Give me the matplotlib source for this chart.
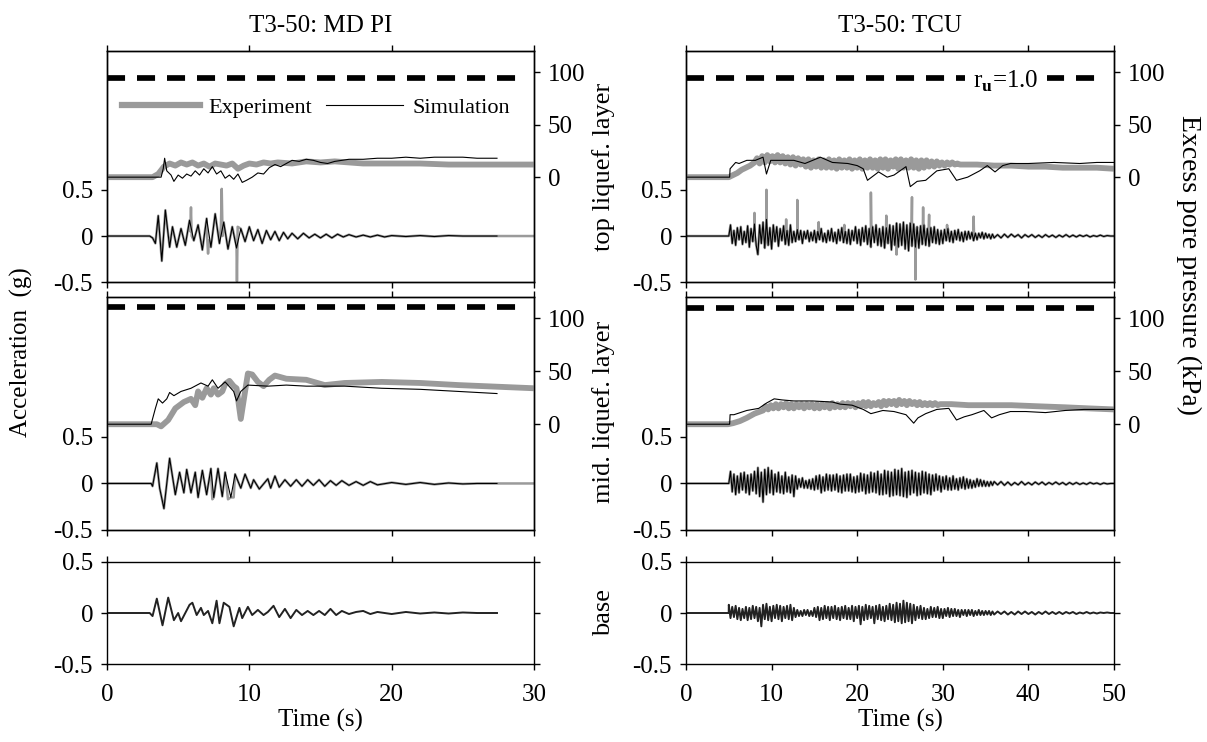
import numpy as np
import matplotlib
matplotlib.use('Agg')
import matplotlib.pyplot as plt
from matplotlib.lines import Line2D

plt.rcParams['font.family'] = ['Liberation Serif', 'DejaVu Serif']
plt.rcParams['axes.unicode_minus'] = False
plt.rcParams['lines.scale_dashes'] = False
plt.rcParams['mathtext.fontset'] = 'custom'
plt.rcParams['mathtext.rm'] = 'Liberation Serif'
plt.rcParams['mathtext.bf'] = 'Liberation Serif:bold'

GREY = '#9a9a9a'

# ---------------- T3-50: MD PI (left column) ----------------
mdpi_top_pp_exp_t = [0, 3.2, 3.6, 4.0, 4.4, 4.8, 5.2, 5.6, 6.0, 6.4, 6.8, 7.2, 7.6, 8.0, 8.4, 8.8,
                     9.2, 9.6, 10.0, 10.5, 11, 11.5, 12, 13, 14, 15, 16, 17, 18, 19, 20, 22, 24, 26, 28, 30]
mdpi_top_pp_exp_v = [0, 0, 3, 10, 13, 11, 14, 12, 14, 11, 13, 10, 13, 12, 11, 13,
                     8, 11, 13, 12, 14, 13, 14, 13, 15, 14, 15, 14, 13, 13, 13, 13, 12, 12, 12, 12]
mdpi_top_pp_sim_t = [0, 3.8, 3.95, 4.05, 4.2, 4.5, 4.7, 5.0, 5.3, 5.6, 5.9, 6.2, 6.5, 6.8, 7.1, 7.4,
                     7.7, 8.0, 8.3, 8.6, 8.9, 9.2, 9.5, 9.8, 10.2, 10.6, 11.0, 11.4, 11.8, 12.2, 12.6,
                     13.0, 13.5, 14, 14.5, 15, 15.5, 16, 17, 18, 19, 20, 21, 22, 23, 24, 25, 26, 27.4]
mdpi_top_pp_sim_v = [0, 0, 8, 18, 6, 2, -4, 2, -1, 3, 1, 6, 2, 8, 4, 10,
                     3, 6, -1, 2, -2, 3, -5, -3, 0, 4, 3, 9, 12, 10, 13,
                     16, 15, 17, 16, 14, 13, 15, 17, 17, 18, 18, 19, 18, 19, 19, 19, 18, 18]

mdpi_top_acc_sim_t = [0, 3.0, 3.2, 3.4, 3.6, 3.85, 4.1, 4.4, 4.6, 4.9, 5.2, 5.5, 5.8, 6.1, 6.4, 6.7,
                      7.0, 7.3, 7.6, 7.9, 8.2, 8.5, 8.8, 9.1, 9.4, 9.7, 10.0, 10.3, 10.6, 10.9, 11.2,
                      11.5, 11.8, 12.1, 12.4, 12.7, 13.0, 13.4, 13.8, 14.2, 14.6, 15.0, 15.4, 15.8,
                      16.2, 16.6, 17.0, 17.5, 18, 18.5, 19, 19.5, 20, 21, 22, 23, 24, 25, 26, 27.4]
mdpi_top_acc_sim_v = [0, 0, -0.02, -0.08, 0.22, -0.27, 0.28, -0.12, 0.1, -0.12, 0.08, -0.1, 0.17,
                      -0.05, 0.12, -0.15, 0.19, -0.12, 0.24, -0.08, 0.15, -0.14, 0.1, -0.13, 0.08,
                      -0.06, 0.1, -0.05, 0.07, -0.08, 0.06, -0.04, 0.05, -0.05, 0.04, -0.03, 0.03,
                      -0.03, 0.03, -0.02, 0.02, -0.02, 0.02, -0.02, 0.02, -0.01, 0.015, -0.01, 0.01,
                      -0.01, 0.01, -0.01, 0.005, -0.005, 0.005, -0.005, 0.005, 0, 0, 0]
mdpi_top_acc_exp_extra_t = [5.85, 5.9, 5.95, 7.05, 7.1, 7.15, 8.0, 8.06, 8.12,
                            9.08, 9.13, 9.18, 27.6, 30.0]
mdpi_top_acc_exp_extra_v = [0.05, 0.31, 0.0, -0.05, -0.19, -0.05, 0.1, 0.51, 0.0,
                            -0.1, -0.49, 0.1, 0, 0]

mdpi_mid_pp_exp_t = [0, 3.5, 3.8, 4.3, 4.8, 5.4, 5.9, 6.2, 6.4, 6.7, 7.0, 7.3, 7.5, 7.8, 8.1, 8.3,
                     8.6, 8.9, 9.1, 9.4, 9.7, 9.9, 10.2, 10.6, 11.0, 11.4, 11.8, 12.6, 14.0, 15.3,
                     16.7, 19.3, 22, 24.7, 30]
mdpi_mid_pp_exp_v = [0, 0, -2, 4, 15, 21, 24, 18, 31, 25, 34, 28, 34, 28, 31, 38,
                     41, 36, 34, 5, 31, 48, 47, 40, 36, 42, 46, 43, 42, 37,
                     39, 40, 39, 37, 34]
mdpi_mid_pp_sim_t = [0, 3.1, 3.4, 3.6, 3.9, 4.2, 4.4, 4.7, 5.2, 5.9, 6.6, 7.1, 7.4, 7.8, 8.3, 8.9,
                     9.1, 9.4, 9.9, 11.3, 12.6, 14, 16.7, 19.3, 22, 24.7, 27.4]
mdpi_mid_pp_sim_v = [0, 0, 15, 24, 20, 24, 30, 27, 31, 34, 39, 36, 42, 34, 40, 31,
                     22, 31, 37, 36, 37, 36, 36, 34, 33, 31, 29]

mdpi_mid_acc_sim_t = [0, 3.1, 3.2, 3.5, 3.7, 4.0, 4.4, 4.8, 5.1, 5.4, 5.6, 5.9, 6.2, 6.4, 6.7, 7.0,
                      7.3, 7.5, 7.8, 8.1, 8.3, 8.7, 9.0, 9.4, 9.7, 10.1, 10.3, 10.7, 11.3, 11.5,
                      11.8, 12.1, 12.5, 12.9, 13.3, 13.7, 14.1, 14.5, 14.9, 15.3, 15.7, 16.1,
                      16.5, 17.0, 17.5, 18.0, 18.5, 19.0, 20, 21, 22, 23, 24, 25, 26, 27.4]
mdpi_mid_acc_sim_v = [0, 0, -0.03, 0.22, -0.05, -0.27, 0.27, -0.12, 0.12, -0.1, 0.15, -0.1, 0.12,
                      -0.15, 0.14, -0.12, 0.16, -0.15, 0.16, -0.14, 0.12, -0.15, 0.1, -0.05,
                      0.1, -0.05, 0.04, -0.06, 0.05, -0.05, 0.08, -0.04, 0.04, -0.03, 0.04,
                      -0.03, 0.04, -0.02, 0.04, -0.03, 0.03, -0.02, 0.03, -0.02, 0.02, -0.02,
                      0.02, -0.015, 0.01, -0.01, 0.01, -0.01, 0.005, -0.005, 0, 0]
mdpi_mid_acc_exp_extra_t = [7.4, 8.5, 8.9, 27.6, 30.0]
mdpi_mid_acc_exp_extra_v = [-0.17, -0.17, -0.15, 0, 0]

mdpi_base_t = [0, 3.0, 3.2, 3.5, 3.9, 4.3, 4.7, 5.0, 5.2, 5.5, 5.8, 6.0, 6.3, 6.6, 6.8, 7.1, 7.4,
               7.7, 7.9, 8.2, 8.6, 8.9, 9.3, 9.5, 9.9, 10.2, 10.6, 11.0, 11.3, 11.7, 12.1, 12.5,
               12.9, 13.3, 13.7, 14.1, 14.5, 14.9, 15.3, 15.7, 16.1, 16.5, 17.0, 17.5, 18.0,
               18.5, 19.0, 20, 21, 22, 23, 24, 25, 26, 27.4]
mdpi_base_v = [0, 0, -0.03, 0.14, -0.12, 0.15, -0.07, 0.0, -0.08, 0.0, 0.08, 0.1, -0.02, 0.05,
               -0.02, 0.02, -0.1, 0.12, -0.1, 0.1, 0.06, -0.13, 0.05, -0.05, 0.06, -0.02, 0.03,
               -0.02, 0.01, 0.07, -0.04, 0.04, -0.05, 0.03, -0.02, 0.02, -0.02, 0.02, -0.02,
               0.04, -0.02, 0.02, -0.01, 0.01, 0.02, -0.01, 0.01, -0.01, 0.01, -0.005, 0.005,
               -0.005, 0.005, 0, 0]

mdpi_ru = [94.7, 111]
mdpi_ru_end = 29.3

# ---------------- T3-50: TCU (right column) ----------------
# experiment pore pressure: onset, oscillating band (step 0.3 s), then slow decay
tcu_top_pp_exp_head_t = [0, 5.0, 5.5, 6, 6.5, 7, 7.5]
tcu_top_pp_exp_head_v = [0, 0, 2, 4, 7, 9, 11]
tcu_top_pp_band_t0 = 8.0
tcu_top_pp_band_v = [14, 18, 13, 20, 14, 21, 15, 20, 14, 21,
                     14, 20, 13, 19, 12, 19, 11, 18, 12, 17,
                     10, 17, 9, 16, 10, 17, 9, 16, 9, 17,
                     9, 16, 8, 17, 9, 16, 9, 17, 8, 16,
                     9, 17, 8, 16, 9, 17, 9, 16, 8, 17,
                     9, 17, 8, 16, 10, 17, 8, 17, 9, 16,
                     9, 17, 9, 16, 8, 16, 9, 16, 10, 15,
                     10, 15, 11, 14, 11, 14, 12, 14, 12, 13]
tcu_top_pp_exp_tail_t = [32, 34, 36, 38, 40, 42, 44, 46, 48, 50]
tcu_top_pp_exp_tail_v = [12, 12, 11, 11, 10, 10, 9, 9, 9, 8]

tcu_top_pp_sim_t = [0, 5.1, 5.15, 5.8, 6.2, 7.1, 8.1, 9.0, 9.4, 9.9, 11.2, 12.6, 13.9, 15.7, 17.1,
                    18.9, 20.0, 20.7, 21.2, 22.5, 23.5, 24.3, 25.7, 26.2, 27.0, 28.0, 29.3, 30.7,
                    31.6, 32.9, 34.3, 35.2, 36.1, 37.0, 37.9, 40, 43, 46, 48, 50]
tcu_top_pp_sim_v = [0, 0, 8, 14, 13, 16, 16, 19, 3, 16, 16, 16, 13, 19, 14,
                    13, 11, 8, -3, 5, 0, 2, 10, -9, -4, -3, 6, 8,
                    -3, 0, 6, 11, 5, 11, 13, 13, 14, 13, 14, 14]

tcu_mid_pp_exp_head_t = [0, 4.9, 5.5, 6.3, 7.1, 8.0]
tcu_mid_pp_exp_head_v = [0, 0, 1, 3, 6, 10]
tcu_mid_pp_band_t0 = 9.0
tcu_mid_pp_band_v = [13, 17, 14, 18, 15, 19, 15, 19, 16, 20,
                     15, 19, 15, 19, 16, 19, 15, 19, 16, 19,
                     15, 19, 15, 19, 16, 19, 15, 20, 16, 19,
                     16, 20, 16, 20, 17, 20, 16, 20, 17, 21,
                     17, 21, 17, 20, 18, 21, 17, 22, 18, 22,
                     19, 22, 18, 23, 19, 22, 18, 22, 19, 21,
                     18, 21, 18, 20, 18, 20, 18, 20, 18, 19]
tcu_mid_pp_exp_tail_t = [31, 33, 35.2, 38, 41, 44.3, 47, 50]
tcu_mid_pp_exp_tail_v = [19, 18, 18, 18, 17, 16, 15, 14]

tcu_mid_pp_sim_t = [0, 5.1, 5.15, 5.6, 7.1, 8.5, 9.4, 10.3, 11.2, 12.6, 14.8, 17.1, 18.0, 19.4,
                    20.7, 21.6, 23.0, 24.3, 25.7, 26.6, 27.1, 28.0, 29.3, 30.7, 31.6, 32.5,
                    33.4, 34.8, 35.7, 36.6, 37.9, 39.7, 42, 44.3, 46.5, 50]
tcu_mid_pp_sim_v = [0, 0, 9, 9, 13, 15, 20, 24, 23, 22, 22, 21, 19, 18,
                    14, 10, 13, 12, 9, 1, 6, 10, 14, 15, 4, 7,
                    9, 13, 6, 9, 12, 12, 11, 13, 14, 14]

# accelerations: strong part sampled every ACC_DT from ACC_T0, coda every TAIL_DT from TAIL_T0
ACC_T0, ACC_DT = 5.0, 0.2
TAIL_T0, TAIL_DT = 36.0, 0.4
tcu_top_acc_v = [0.0, 0.12, -0.08, 0.06, -0.1, 0.09, -0.04, 0.1, -0.09, 0.05,
                 -0.07, 0.11, -0.12, 0.08, -0.06, 0.13, -0.1, -0.2, 0.12, -0.08,
                 0.15, -0.13, 0.18, -0.1, 0.09, -0.14, 0.12, -0.06, 0.1, -0.11,
                 0.08, -0.05, 0.11, -0.09, 0.06, -0.1, 0.12, -0.07, 0.05, -0.06,
                 0.07, -0.04, 0.06, -0.08, 0.05, -0.03, 0.06, -0.06, 0.04, -0.05,
                 0.06, -0.07, 0.05, -0.04, 0.08, -0.06, 0.03, -0.07, 0.06, -0.05,
                 0.08, -0.06, 0.04, -0.08, 0.07, -0.05, 0.09, -0.07, 0.05, -0.08,
                 0.07, -0.09, 0.06, -0.05, 0.1, -0.08, 0.07, -0.1, 0.09, -0.06,
                 0.11, -0.09, 0.08, -0.12, 0.1, -0.07, 0.12, -0.1, 0.08, -0.11,
                 0.1, -0.13, 0.09, -0.08, 0.12, -0.15, 0.11, -0.1, 0.14, -0.12,
                 0.13, -0.1, 0.15, -0.14, 0.12, -0.16, 0.14, -0.11, 0.13, -0.12,
                 0.1, -0.13, 0.11, -0.09, 0.12, -0.1, 0.08, -0.11, 0.09, -0.07,
                 0.1, -0.08, 0.07, -0.09, 0.06, -0.08, 0.07, -0.05, 0.08, -0.06,
                 0.05, -0.07, 0.06, -0.04, 0.07, -0.05, 0.04, -0.06, 0.05, -0.04,
                 0.05, -0.03, 0.04, -0.05, 0.03, -0.04, 0.03, -0.02, 0.04, -0.03,
                 0.03, -0.02, 0.02, -0.03, 0.02]
tcu_top_acc_tail_v = [-0.02, 0.015, -0.02, 0.02, -0.015, 0.02, -0.01, 0.015, -0.02, 0.015,
                      -0.01, 0.015, -0.015, 0.01, -0.015, 0.015, -0.01, 0.01, -0.015, 0.01,
                      -0.01, 0.015, -0.01, 0.01, -0.01, 0.01, -0.005, 0.01, -0.01, 0.005,
                      -0.005, 0.01, -0.005, 0.005, 0.0, 0.0]
tcu_top_acc_spike_t = [8.0, 9.4, 11.7, 13.0, 15.5, 18.5, 21.6, 23.4, 24.6, 26.4, 26.8, 27.7,
                       28.4, 30.5, 33.6]
tcu_top_acc_spike_v = [0.25, 0.5, 0.18, 0.39, 0.15, 0.12, 0.47, 0.22, -0.2, 0.42, -0.47, 0.31,
                       0.23, 0.12, 0.21]

tcu_mid_acc_v = [0.0, 0.13, -0.09, 0.1, -0.12, 0.08, -0.1, 0.11, -0.07, 0.12,
                 -0.1, 0.09, -0.12, 0.1, -0.08, 0.13, -0.11, 0.17, -0.14, 0.12,
                 -0.2, 0.15, -0.12, 0.17, -0.1, 0.14, -0.12, 0.1, -0.09, 0.12,
                 -0.1, 0.08, -0.11, 0.12, -0.09, 0.07, -0.1, 0.09, -0.14, 0.08,
                 -0.06, 0.05, -0.04, 0.06, -0.05, 0.03, -0.05, 0.04, -0.06, 0.05,
                 -0.07, 0.08, -0.06, 0.09, -0.1, 0.07, -0.08, 0.1, -0.07, 0.09,
                 -0.08, 0.09, -0.07, 0.1, -0.09, 0.08, -0.1, 0.09, -0.08, 0.1,
                 -0.08, 0.1, -0.09, 0.07, -0.1, 0.08, -0.09, 0.11, -0.08, 0.1,
                 -0.11, 0.09, -0.1, 0.12, -0.09, 0.11, -0.1, 0.13, -0.12, 0.1,
                 -0.12, 0.14, -0.11, 0.13, -0.14, 0.12, -0.13, 0.15, -0.12, 0.14,
                 -0.13, 0.16, -0.14, 0.12, -0.15, 0.13, -0.12, 0.14, -0.1, 0.12,
                 -0.13, 0.11, -0.12, 0.13, -0.1, 0.12, -0.11, 0.1, -0.12, 0.09,
                 -0.08, 0.1, -0.07, 0.08, -0.09, 0.07, -0.06, 0.08, -0.07, 0.06,
                 -0.07, 0.08, -0.06, 0.05, -0.07, 0.06, -0.05, 0.07, -0.06, 0.05,
                 -0.05, 0.04, -0.05, 0.03, -0.04, 0.05, -0.03, 0.04, -0.03, 0.03,
                 -0.03, 0.02, -0.03, 0.02, -0.02]
tcu_mid_acc_tail_v = [0.02, -0.015, 0.02, -0.02, 0.015, -0.02, 0.01, -0.015, 0.02, -0.015,
                      0.01, -0.015, 0.015, -0.01, 0.015, -0.015, 0.01, -0.01, 0.015, -0.01,
                      0.01, -0.015, 0.01, -0.01, 0.01, -0.01, 0.005, -0.01, 0.01, -0.005,
                      0.005, -0.01, 0.005, -0.005, 0.0, 0.0]

tcu_base_v = [0.08, -0.05, 0.06, -0.04, 0.07, -0.06, 0.05, -0.07, 0.04, -0.05,
              0.06, -0.07, 0.05, -0.06, 0.07, -0.05, 0.06, -0.08, 0.05, -0.13,
              0.08, -0.06, 0.09, -0.07, 0.06, -0.08, 0.07, -0.05, 0.08, -0.06,
              0.07, -0.08, 0.06, -0.05, 0.07, -0.06, 0.08, -0.07, 0.05, -0.04,
              0.03, -0.03, 0.02, -0.03, 0.03, -0.02, 0.03, -0.03, 0.02, -0.03,
              0.05, -0.04, 0.06, -0.07, 0.05, -0.06, 0.07, -0.05, 0.06, -0.07,
              0.06, -0.05, 0.07, -0.06, 0.05, -0.07, 0.06, -0.05, 0.07, -0.06,
              0.05, -0.06, 0.07, -0.08, 0.06, -0.05, 0.07, -0.11, 0.06, -0.07,
              0.08, -0.06, 0.07, -0.05, 0.06, -0.1, 0.07, -0.06, 0.08, -0.07,
              0.06, -0.08, 0.07, -0.06, 0.09, -0.07, 0.08, -0.09, 0.1, -0.08,
              0.09, -0.1, 0.12, -0.09, 0.1, -0.08, 0.09, -0.1, 0.08, -0.07,
              0.06, -0.05, 0.07, -0.06, 0.05, -0.06, 0.04, -0.05, 0.06, -0.04,
              0.05, -0.04, 0.06, -0.05, 0.04, -0.05, 0.04, -0.03, 0.05, -0.04,
              0.04, -0.03, 0.04, -0.03, 0.03, -0.04, 0.03, -0.02, 0.03, -0.03,
              0.03, -0.02, 0.03, -0.03, 0.02, -0.02, 0.03, -0.02, 0.02, -0.02,
              0.02, -0.015, 0.02, -0.02, 0.015]
tcu_base_tail_v = [-0.015, 0.015, -0.01, 0.015, -0.015, 0.01, -0.015, 0.015, -0.01, 0.015,
                   -0.01, 0.01, -0.015, 0.01, -0.01, 0.015, -0.01, 0.01, -0.01, 0.01,
                   -0.01, 0.01, -0.005, 0.01, -0.01, 0.005, -0.005, 0.01, -0.005, 0.005,
                   -0.005, 0.005, 0.0, 0.005, 0.0, 0.0]

tcu_ru = [94.7, 110]
tcu_ru_end = 48.5


def style(ax, xmax, xticks):
    for s in ax.spines.values():
        s.set_linewidth(1.0)
    ax.set_xlim(0, xmax)
    ax.set_xticks(xticks)
    ax.tick_params(direction='out', length=4, width=1, labelsize=18, pad=6,
                   top=True, bottom=True)
    ax.tick_params(axis='x', pad=10)


def merge(t1, v1, t2, v2):
    t = np.concatenate([np.asarray(t1, float), np.asarray(t2, float)])
    v = np.concatenate([np.asarray(v1, float), np.asarray(v2, float)])
    order = np.argsort(t, kind='stable')
    return t[order], v[order]


def spikes(ts, vs, half=0.05):
    st, sv = [], []
    for t, v in zip(ts, vs):
        st += [t - half, t, t + half]
        sv += [0.0, v, 0.0]
    return st, sv


def acc_series(main_v, tail_v):
    t_main = ACC_T0 + ACC_DT * np.arange(len(main_v))
    t_tail = TAIL_T0 + TAIL_DT * np.arange(len(tail_v))
    t = np.concatenate([[0.0, ACC_T0 - 0.01], t_main, t_tail])
    v = np.concatenate([[0.0, 0.0], main_v, tail_v])
    return t, v


def band_series(head_t, head_v, t0, band_v, tail_t, tail_v, dt=0.3):
    t = np.concatenate([head_t, t0 + dt * np.arange(len(band_v)), tail_t])
    v = np.concatenate([head_v, band_v, tail_v])
    return t, v


W, H = 1207, 742
fig = plt.figure(figsize=(W / 100, H / 100), dpi=100)


def add_ax(x0, y0, w, h):
    return fig.add_axes([x0 / W, 1 - (y0 + h) / H, w / W, h / H])


cols = [dict(x0=107, w=427, xmax=30, xticks=[0, 10, 20, 30], title='T3-50: MD PI'),
        dict(x0=686, w=428, xmax=50, xticks=[0, 10, 20, 30, 40, 50], title='T3-50: TCU')]
rows = [(51, 231.3), (297.3, 232.7), (561.7, 102.6)]

tcu_top_acc = acc_series(tcu_top_acc_v, tcu_top_acc_tail_v)
tcu_mid_acc = acc_series(tcu_mid_acc_v, tcu_mid_acc_tail_v)
tcu_base = acc_series(tcu_base_v, tcu_base_tail_v)
sp_t, sp_v = spikes(tcu_top_acc_spike_t, tcu_top_acc_spike_v)
tcu_top_exp = merge(tcu_top_acc[0], tcu_top_acc[1], sp_t, sp_v)

panels = {
    (0, 0): dict(pp_exp=(mdpi_top_pp_exp_t, mdpi_top_pp_exp_v),
                 pp_sim=(mdpi_top_pp_sim_t, mdpi_top_pp_sim_v),
                 acc_exp=merge(mdpi_top_acc_sim_t, mdpi_top_acc_sim_v,
                               mdpi_top_acc_exp_extra_t, mdpi_top_acc_exp_extra_v),
                 acc_sim=(mdpi_top_acc_sim_t, mdpi_top_acc_sim_v),
                 ru=mdpi_ru[0], ru_end=mdpi_ru_end),
    (1, 0): dict(pp_exp=(mdpi_mid_pp_exp_t, mdpi_mid_pp_exp_v),
                 pp_sim=(mdpi_mid_pp_sim_t, mdpi_mid_pp_sim_v),
                 acc_exp=merge(mdpi_mid_acc_sim_t, mdpi_mid_acc_sim_v,
                               mdpi_mid_acc_exp_extra_t, mdpi_mid_acc_exp_extra_v),
                 acc_sim=(mdpi_mid_acc_sim_t, mdpi_mid_acc_sim_v),
                 ru=mdpi_ru[1], ru_end=mdpi_ru_end),
    (0, 1): dict(pp_exp=band_series(tcu_top_pp_exp_head_t, tcu_top_pp_exp_head_v,
                                    tcu_top_pp_band_t0, tcu_top_pp_band_v,
                                    tcu_top_pp_exp_tail_t, tcu_top_pp_exp_tail_v),
                 pp_sim=(tcu_top_pp_sim_t, tcu_top_pp_sim_v),
                 acc_exp=tcu_top_exp, acc_sim=tcu_top_acc,
                 ru=tcu_ru[0], ru_end=tcu_ru_end),
    (1, 1): dict(pp_exp=band_series(tcu_mid_pp_exp_head_t, tcu_mid_pp_exp_head_v,
                                    tcu_mid_pp_band_t0, tcu_mid_pp_band_v,
                                    tcu_mid_pp_exp_tail_t, tcu_mid_pp_exp_tail_v),
                 pp_sim=(tcu_mid_pp_sim_t, tcu_mid_pp_sim_v),
                 acc_exp=tcu_mid_acc, acc_sim=tcu_mid_acc,
                 ru=tcu_ru[1], ru_end=tcu_ru_end),
}
base = {0: (mdpi_base_t, mdpi_base_v), 1: tcu_base}

for c, col in enumerate(cols):
    for r, (y0, h) in enumerate(rows):
        ax = add_ax(col['x0'], y0, col['w'], h)
        style(ax, col['xmax'], col['xticks'])
        if r < 2:
            d = panels[(r, c)]
            ax.set_ylim(-0.5, 2.0)
            ax.set_yticks([-0.5, 0, 0.5])
            ax.set_yticklabels(['-0.5', '0', '0.5'])
            ax.tick_params(labelbottom=False)
            ax.plot(*d['acc_exp'], color=GREY, lw=1.8, zorder=2)
            ax.plot(*d['acc_sim'], color='black', lw=0.8, zorder=3)
            ax2 = ax.twinx()
            ax2.set_ylim(-100, 120)
            ax2.set_yticks([0, 50, 100])
            ax2.tick_params(direction='out', length=4, width=1, labelsize=18, pad=6)
            for s in ax2.spines.values():
                s.set_linewidth(1.0)
            ax2.plot(*d['pp_exp'], color=GREY, lw=4.2, solid_capstyle='butt', zorder=2)
            ax2.plot(*d['pp_sim'], color='black', lw=0.8, zorder=3)
            ax2.plot([0, d['ru_end']], [d['ru'], d['ru']], color='black', lw=4.1,
                     linestyle=(0, (13, 8.6)), zorder=4)
            if r == 0 and c == 0:
                handles = [Line2D([], [], color=GREY, lw=4.5),
                           Line2D([], [], color='black', lw=0.8)]
                ax2.legend(handles, ['Experiment', 'Simulation'], ncol=2, frameon=False,
                           loc='center left', bbox_to_anchor=(0.035, 0.754),
                           borderaxespad=0, borderpad=0, handlelength=3.5,
                           handletextpad=0.4, columnspacing=0.6, fontsize=16)
            if r == 0 and c == 1:
                ax2.text(37.4, 91, r'r$_\mathbf{u}$=1.0', fontsize=18, ha='center',
                         va='center', zorder=5,
                         bbox=dict(facecolor='white', edgecolor='none', pad=6))
            if r == 0:
                ax.set_title(col['title'], fontsize=18, pad=14)
        else:
            ax.set_ylim(-0.5, 0.5)
            ax.set_yticks([-0.5, 0, 0.5])
            ax.set_yticklabels(['-0.5', '0', '0.5'])
            ax.tick_params(right=True)
            ax.plot(*base[c], color='#222222', lw=1.4)
            ax.set_xlabel('Time (s)', fontsize=18, labelpad=2)

fig.text(21 / W, 1 - 352 / H, 'Acceleration  (g)', rotation=90, fontsize=18,
         ha='center', va='center')
fig.text(1189 / W, 1 - 265 / H, 'Excess pore pressure (kPa)', rotation=270, fontsize=20,
         ha='center', va='center')
fig.text(604 / W, 1 - 167 / H, 'top liquef. layer', rotation=90, fontsize=19,
         ha='center', va='center')
fig.text(604 / W, 1 - 412 / H, 'mid. liquef. layer', rotation=90, fontsize=19,
         ha='center', va='center')
fig.text(604 / W, 1 - 613 / H, 'base', rotation=90, fontsize=19,
         ha='center', va='center')

fig.savefig('out.png', dpi=100)
